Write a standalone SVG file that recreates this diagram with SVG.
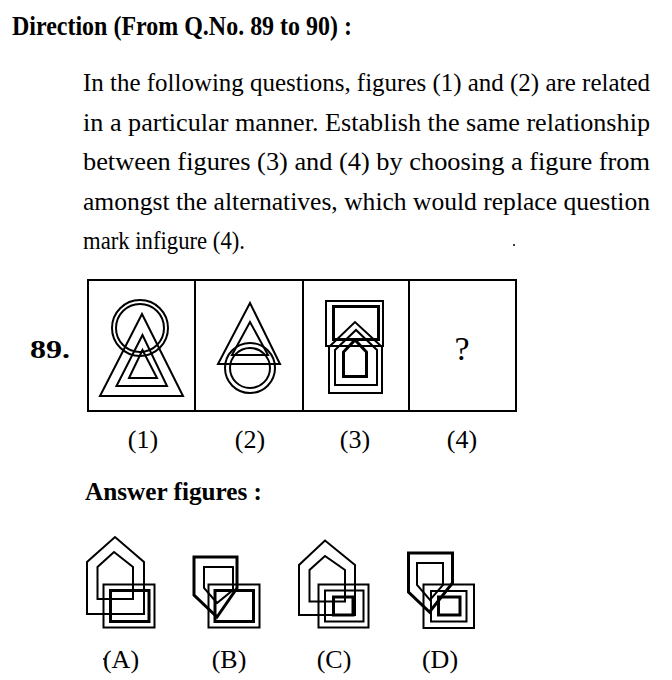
<svg xmlns="http://www.w3.org/2000/svg" width="672" height="680" viewBox="0 0 672 680">
<style>
.t{font-family:"Liberation Serif","Times New Roman",serif;fill:#000}
.b{font-weight:bold}
.s{fill:none;stroke:#000;stroke-width:2}
.k{fill:none;stroke:#000;stroke-width:3}
</style>
<rect width="672" height="680" fill="#fff"/>
<g id="heading">
<text class="t b" x="12" y="35" font-size="27" textLength="340" lengthAdjust="spacingAndGlyphs">Direction (From Q.No. 89 to 90) :</text>
</g>
<g id="instructions">
<text class="t" x="83" y="91" font-size="25" textLength="567" lengthAdjust="spacingAndGlyphs">In the following questions, figures (1) and (2) are related</text>
<text class="t" x="83" y="131" font-size="26" textLength="567" lengthAdjust="spacingAndGlyphs">in a particular manner. Establish the same relationship</text>
<text class="t" x="83" y="170" font-size="26" textLength="567" lengthAdjust="spacingAndGlyphs">between figures (3) and (4) by choosing a figure from</text>
<text class="t" x="83" y="210" font-size="25" textLength="567" lengthAdjust="spacingAndGlyphs">amongst the alternatives, which would replace question</text>
<text class="t" x="83" y="249" font-size="26" textLength="162" lengthAdjust="spacingAndGlyphs">mark infigure (4).</text>
<circle cx="514" cy="245" r="1" fill="#000"/>
</g>
<g id="q89-label">
<text class="t b" x="30" y="358" font-size="25" textLength="40" lengthAdjust="spacingAndGlyphs">89.</text>
</g>
<g id="problem-frame">
<rect class="s" x="88" y="280" width="428" height="131"/>
<line class="s" x1="195" y1="280" x2="195" y2="411"/>
<line class="s" x1="303" y1="280" x2="303" y2="411"/>
<line class="s" x1="409" y1="280" x2="409" y2="411"/>
</g>
<g id="fig1">
<circle class="s" cx="140" cy="328" r="28"/>
<circle class="s" cx="140" cy="328" r="24"/>
<polygon class="s" points="142,314 100,396 183,396"/>
<polygon class="s" points="142.5,335 116.5,386 167,386"/>
<polygon class="s" points="142.5,350 129,378 157,378"/>
</g>
<g id="fig2">
<polygon class="s" points="250,303 218,364 280,364"/>
<polygon class="s" points="250,322 232,355 268,355"/>
<circle class="s" cx="250" cy="368" r="25"/>
<circle class="s" cx="250" cy="368" r="20"/>
</g>
<g id="fig3">
<rect class="s" x="326" y="301" width="57" height="45"/>
<rect class="k" x="333.5" y="306.5" width="45" height="33"/>
<polygon class="s" points="329,393 329,347 355,322 382,347 382,393"/>
<polygon class="s" points="335,385 335,350 356,330 377,350 377,385"/>
<polygon class="k" points="343.5,376.5 343.5,352 355,340 366.5,352 366.5,376.5"/>
</g>
<g id="fig4">
<text class="t" x="462" y="360" font-size="34" text-anchor="middle">?</text>
</g>
<g id="fig-labels">
<text class="t" x="143" y="448" font-size="26" text-anchor="middle">(1)</text>
<text class="t" x="250" y="448" font-size="26" text-anchor="middle">(2)</text>
<text class="t" x="355" y="448" font-size="26" text-anchor="middle">(3)</text>
<text class="t" x="462" y="448" font-size="26" text-anchor="middle">(4)</text>
</g>
<g id="answer-heading">
<text class="t b" x="85" y="500" font-size="25" textLength="177" lengthAdjust="spacingAndGlyphs">Answer figures :</text>
</g>
<g id="optA">
<polygon class="s" points="87,614 87,562 115,537 144,562 144,614"/>
<polygon class="s" points="97.5,599 97.5,567 114,552 133,567 133,599"/>
<rect class="s" x="103.5" y="584.5" width="51" height="43"/>
<rect class="k" x="110.5" y="590.5" width="38.5" height="31"/>
</g>
<g id="optB">
<polygon class="k" points="194,557 237,557 237,588 217,617 194,595"/>
<polygon class="s" points="204,567 233,567 233,590 217,603 204,588"/>
<rect class="s" x="208.5" y="584.5" width="51" height="43"/>
<rect class="k" x="215" y="590.5" width="38.5" height="31"/>
</g>
<g id="optC">
<polygon class="s" points="299,615 299,565 325,540.5 355,565 355,615"/>
<polygon class="s" points="309.5,601.5 309.5,570 325,556 345,570 345,601.5"/>
<rect class="s" x="318.5" y="584.5" width="50" height="43"/>
<rect class="s" x="325" y="590.5" width="38.5" height="31"/>
<rect class="k" x="333.5" y="597" width="19.5" height="18"/>
</g>
<g id="optD">
<polygon class="k" points="408.5,553 452.5,553 452.5,583 429.5,612 408.5,592"/>
<polygon class="s" points="417,563 443,563 443,585 430,600 417,585"/>
<rect class="s" x="423.5" y="584.5" width="50.5" height="43.5"/>
<rect class="s" x="431" y="591" width="35.5" height="30.5"/>
<rect class="k" x="438.5" y="597" width="21.5" height="18"/>
</g>
<g id="option-labels">
<circle cx="104" cy="659" r="1" fill="#000"/>
<text class="t" x="121" y="668" font-size="26" text-anchor="middle">(A)</text>
<text class="t" x="229" y="668" font-size="26" text-anchor="middle">(B)</text>
<text class="t" x="334" y="668" font-size="26" text-anchor="middle">(C)</text>
<text class="t" x="440" y="668" font-size="26" text-anchor="middle">(D)</text>
</g>
</svg>
